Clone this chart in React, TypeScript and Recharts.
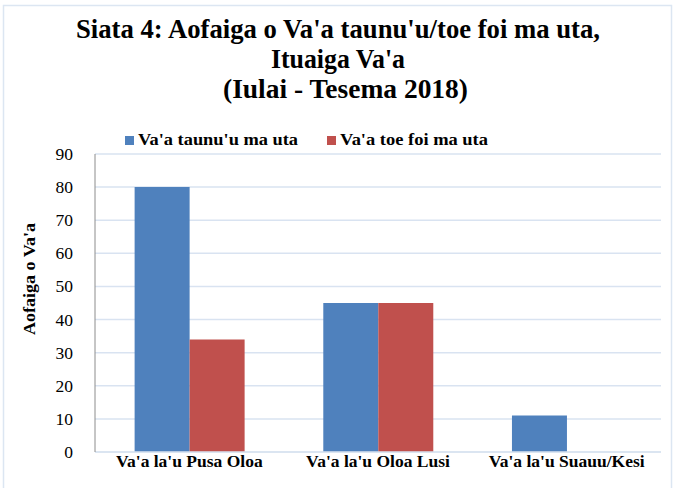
import React from 'react';
import { BarChart, Bar, XAxis, YAxis, CartesianGrid } from 'recharts';

const categories = ["Va'a la'u Pusa Oloa", "Va'a la'u Oloa Lusi", "Va'a la'u Suauu/Kesi"];
const arrivedValues = [80, 45, 11];
const departedValues = [34, 45, 0];
const seriesNames = ["Va'a taunu'u ma uta", "Va'a toe foi ma uta"];
const seriesColors = ['#4f81bd', '#c0504d'];
const yTicks = [0, 10, 20, 30, 40, 50, 60, 70, 80, 90];
const titleLines = ["Siata 4: Aofaiga o Va'a taunu'u/toe foi ma uta,", "Ituaiga Va'a", "(Iulai - Tesema 2018)"];
const yAxisTitle = "Aofaiga o Va'a";

const data = categories.map((c, i) => ({ name: c, arrived: arrivedValues[i], departed: departedValues[i] }));

const FONT = "'Liberation Serif', 'DejaVu Serif', serif";
const GRID = '#d9e3f1';

const XTick = (props: any) => {
  const { x, y, payload } = props;
  return (
    <text x={x} y={y} textAnchor="middle" fontFamily={FONT} fontWeight="bold" fontSize={17.5} fill="#000" dy={13}>
      {payload.value}
    </text>
  );
};

const YTick = (props: any) => {
  const { x, y, payload } = props;
  return (
    <text x={x} y={y} textAnchor="end" fontFamily={FONT} fontSize={17.5} fill="#000" dy={6}>
      {payload.value}
    </text>
  );
};

export default function App() {
  return (
    <div style={{ position: 'absolute', left: 0, top: 0, width: 673, height: 488, background: '#fff' }}>
      <BarChart
        width={673}
        height={488}
        data={data}
        margin={{ top: 154, right: 12, bottom: 0, left: 35 }}
        barCategoryGap="21%"
        barGap={0}
      >
        <CartesianGrid vertical={false} stroke={GRID} strokeWidth={1.5} />
        <XAxis
          dataKey="name"
          height={36}
          axisLine={{ stroke: GRID, strokeWidth: 1.5 }}
          tickLine={false}
          tickSize={0}
          tick={<XTick />}
          interval={0}
        />
        <YAxis
          width={60}
          domain={[0, 90]}
          ticks={yTicks}
          interval={0}
          axisLine={{ stroke: '#8c8c8c' }}
          tickLine={false}
          tickSize={0}
          tickMargin={22}
          tick={<YTick />}
        />
        <Bar dataKey="arrived" name={seriesNames[0]} fill={seriesColors[0]} isAnimationActive={false} />
        <Bar dataKey="departed" name={seriesNames[1]} fill={seriesColors[1]} isAnimationActive={false} />
      </BarChart>
      <svg width={673} height={488} style={{ position: 'absolute', left: 0, top: 0, pointerEvents: 'none' }}>
        <rect x={3.5} y={5.5} width={668} height={490} fill="none" stroke="#dce6f2" strokeWidth={1.5} />
        <text x={338} y={38} textAnchor="middle" fontFamily={FONT} fontWeight="bold" fontSize={27} textLength={524} lengthAdjust="spacingAndGlyphs">{titleLines[0]}</text>
        <text x={338} y={68} textAnchor="middle" fontFamily={FONT} fontWeight="bold" fontSize={27} textLength={134} lengthAdjust="spacingAndGlyphs">{titleLines[1]}</text>
        <text x={345.5} y={98} textAnchor="middle" fontFamily={FONT} fontWeight="bold" fontSize={27} textLength={245} lengthAdjust="spacingAndGlyphs">{titleLines[2]}</text>
        <rect x={125} y={136} width={9} height={9} fill={seriesColors[0]} />
        <text x={138} y={145} fontFamily={FONT} fontWeight="bold" fontSize={16} textLength={160} lengthAdjust="spacingAndGlyphs">{seriesNames[0]}</text>
        <rect x={327} y={136} width={9} height={9} fill={seriesColors[1]} />
        <text x={340} y={145} fontFamily={FONT} fontWeight="bold" fontSize={16} textLength={148} lengthAdjust="spacingAndGlyphs">{seriesNames[1]}</text>
        <text x={35} y={279} transform="rotate(-90 35 279)" textAnchor="middle" fontFamily={FONT} fontWeight="bold" fontSize={16} textLength={112} lengthAdjust="spacingAndGlyphs">{yAxisTitle}</text>
      </svg>
    </div>
  );
}
